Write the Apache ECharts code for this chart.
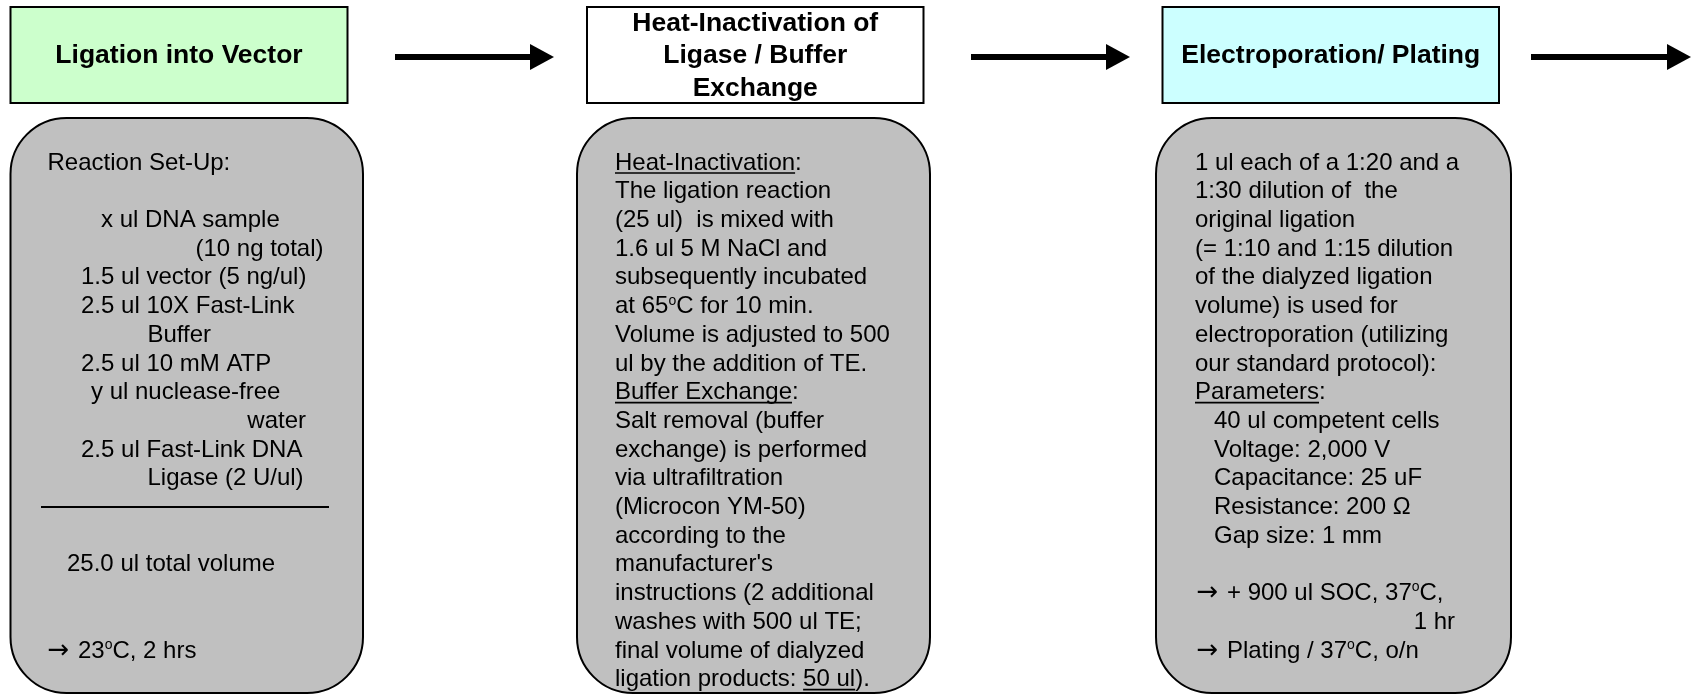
<!DOCTYPE html>
<html><head><meta charset="utf-8">
<script src="https://cdn.jsdelivr.net/npm/echarts@6/dist/echarts.min.js"></script>
<style>html,body{margin:0;padding:0;background:#fff}#c{width:1692px;height:694px}</style>
</head><body><div id="c"></div>
<script>
// ---- content ----
const stepTitles = ['Ligation into Vector', 'Heat-Inactivation of\nLigase / Buffer\nExchange', 'Electroporation/ Plating'];

const box1Lines = ['Reaction Set-Up:', 'x ul DNA sample', '(10 ng total)', '1.5 ul vector (5 ng/ul)',
  '2.5 ul 10X Fast-Link', 'Buffer', '2.5 ul 10 mM ATP', 'y ul nuclease-free', 'water',
  '2.5 ul Fast-Link DNA', 'Ligase (2 U/ul)', '25.0 ul total volume', '{a|→} 23{s|o}C, 2 hrs'];
const box2Lines = ['Heat-Inactivation:', 'The ligation reaction', '(25 ul)  is mixed with', '1.6 ul 5 M NaCl and',
  'subsequently incubated', 'at 65{s|o}C for 10 min.', 'Volume is adjusted to 500', 'ul by the addition of TE.',
  'Buffer Exchange:', 'Salt removal (buffer', 'exchange) is performed', 'via ultrafiltration',
  '(Microcon YM-50)', 'according to the', "manufacturer's", 'instructions (2 additional',
  'washes with 500 ul TE;', 'final volume of dialyzed', 'ligation products: 50 ul).'];
const box3Lines = ['1 ul each of a 1:20 and a', '1:30 dilution of  the', 'original ligation',
  '(= 1:10 and 1:15 dilution', 'of the dialyzed ligation', 'volume) is used for',
  'electroporation (utilizing', 'our standard protocol):', 'Parameters:', '40 ul competent cells',
  'Voltage: 2,000 V', 'Capacitance: 25 uF', 'Resistance: 200 Ω', 'Gap size: 1 mm',
  '{a|→} + 900 ul SOC, 37{s|o}C,', '1 hr', '{a|→} Plating / 37{s|o}C, o/n'];
// underlined fragments: [step, line index, text before, underlined text]
const underlined = [[1, 0, '', 'Heat-Inactivation'], [1, 8, '', 'Buffer Exchange'],
  [1, 18, 'ligation products: ', '50 ul'], [2, 8, '', 'Parameters']];

// ---- layout (pixel-unit axes) ----
const box1Rows = [0, 2, 3, 4, 5, 6, 7, 8, 9, 10, 11, 14, 17];
const box1X = [47.5, 101, 323.5, 81, 81, 147.5, 81, 91, 306, 81, 147.5, 67, 47.5];
const box1Align = ['left', 'left', 'right', 'left', 'left', 'left', 'left', 'left', 'right', 'left', 'left', 'left', 'left'];
const box2Rows = box2Lines.map((_, i) => i);
const box2X = box2Lines.map(() => 615);
const box2Align = box2Lines.map(() => 'left');
const box3Rows = [0, 1, 2, 3, 4, 5, 6, 7, 8, 9, 10, 11, 12, 13, 15, 16, 17];
const box3X = [1195, 1195, 1195, 1195, 1195, 1195, 1195, 1195, 1195, 1214, 1214, 1214, 1214, 1214, 1196.5, 1455, 1196.5];
const box3Align = box3Rows.map((r) => r === 16 ? 'right' : 'left');

const headerFills = ['#CCFFCC', '#FFFFFF', '#CCFFFF'];
const headerX = [[10.5, 347.5], [587, 923.5], [1162.5, 1499]];
const headerY = [7, 103];
const bodyX = [[10.5, 363], [577, 930], [1156, 1511]];
const bodyY = [118, 693];
const arrowX = [[395, 554], [971, 1130], [1531, 1691]];
const arrowY = 57;
const rowTop = 163, rowStep = 28.7;
const ruleX = [41, 329], ruleRow = 12;

const FONT = '"Liberation Sans", Arial, Helvetica, sans-serif';
const lineSets = [[box1Lines, box1Rows, box1X, box1Align], [box2Lines, box2Rows, box2X, box2Align], [box3Lines, box3Rows, box3X, box3Align]];

const measureCtx = document.createElement('canvas').getContext('2d');
measureCtx.font = '24px ' + FONT;
const tw = (s) => measureCtx.measureText(s).width;

function renderItem(params, api) {
  const i = params.dataIndex;
  const P = (x, y) => api.coord([x, y]);
  const kids = [];
  // body rounded box
  const b0 = P(bodyX[i][0], bodyY[0]), b1 = P(bodyX[i][1], bodyY[1]);
  kids.push({type: 'rect', shape: {x: b0[0], y: b0[1], width: b1[0] - b0[0], height: b1[1] - b0[1], r: 56},
    style: {fill: '#C0C0C0', stroke: '#000', lineWidth: 2}});
  // header box
  const h0 = P(headerX[i][0], headerY[0]), h1 = P(headerX[i][1], headerY[1]);
  kids.push({type: 'rect', shape: {x: h0[0], y: h0[1], width: h1[0] - h0[0], height: h1[1] - h0[1]},
    style: {fill: headerFills[i], stroke: '#000', lineWidth: 2}});
  const hc = P((headerX[i][0] + headerX[i][1]) / 2, (headerY[0] + headerY[1]) / 2 + 1);
  kids.push({type: 'text', z2: 5, style: {text: stepTitles[i], x: hc[0], y: hc[1], align: 'center', verticalAlign: 'middle',
    fontSize: 26.5, fontWeight: 'bold', fontFamily: FONT, lineHeight: 32.5, fill: '#000'}});
  // arrow
  const a0 = P(arrowX[i][0], arrowY), a1 = P(arrowX[i][1], arrowY);
  const headBase = a1[0] - 24;
  kids.push({type: 'line', shape: {x1: a0[0], y1: a0[1], x2: headBase + 2, y2: a1[1]}, style: {stroke: '#000', lineWidth: 6}});
  kids.push({type: 'polygon', shape: {points: [[headBase, a1[1] - 13], [a1[0], a1[1]], [headBase, a1[1] + 13]]}, style: {fill: '#000'}});
  // body text
  const [lines, rows, xs, aligns] = lineSets[i];
  lines.forEach((t, k) => {
    const p = P(xs[k], rowTop + rows[k] * rowStep);
    kids.push({type: 'text', z2: 5, style: {text: t, x: p[0], y: p[1], align: aligns[k], verticalAlign: 'middle',
      fontSize: 24, fontFamily: FONT, fill: '#000',
      rich: {
        s: {fontSize: 14, fontFamily: FONT, verticalAlign: 'top', lineHeight: 14},
        a: {fontSize: 26, fontFamily: '"DejaVu Sans", sans-serif', padding: [0, 2, 0, 0]}
      }}});
  });
  // underlines
  underlined.filter((u) => u[0] === i).forEach((u) => {
    const k = u[1];
    const p = P(xs[k], rowTop + rows[k] * rowStep);
    const x1 = p[0] + tw(u[2]);
    kids.push({type: 'line', z2: 6, shape: {x1: x1, y1: p[1] + 10, x2: x1 + tw(u[3]), y2: p[1] + 10}, style: {stroke: '#000', lineWidth: 1.6}});
  });
  // rule in first box
  if (i === 0) {
    const r0 = P(ruleX[0], rowTop + ruleRow * rowStep - 0.5), r1 = P(ruleX[1], rowTop + ruleRow * rowStep - 0.5);
    kids.push({type: 'line', shape: {x1: r0[0], y1: r0[1], x2: r1[0], y2: r1[1]}, style: {stroke: '#000', lineWidth: 2}});
  }
  return {type: 'group', children: kids};
}

const chart = echarts.init(document.getElementById('c'), null, {renderer: 'canvas'});
chart.setOption({
  animation: false,
  backgroundColor: '#fff',
  grid: {left: 0, right: 0, top: 0, bottom: 0, containLabel: false},
  xAxis: {type: 'value', min: 0, max: 1692, show: false},
  yAxis: {type: 'value', min: 0, max: 694, inverse: true, show: false},
  series: [{type: 'custom', renderItem: renderItem, clip: false, data: stepTitles.map((t, i) => [i])}]
});
</script></body></html>
